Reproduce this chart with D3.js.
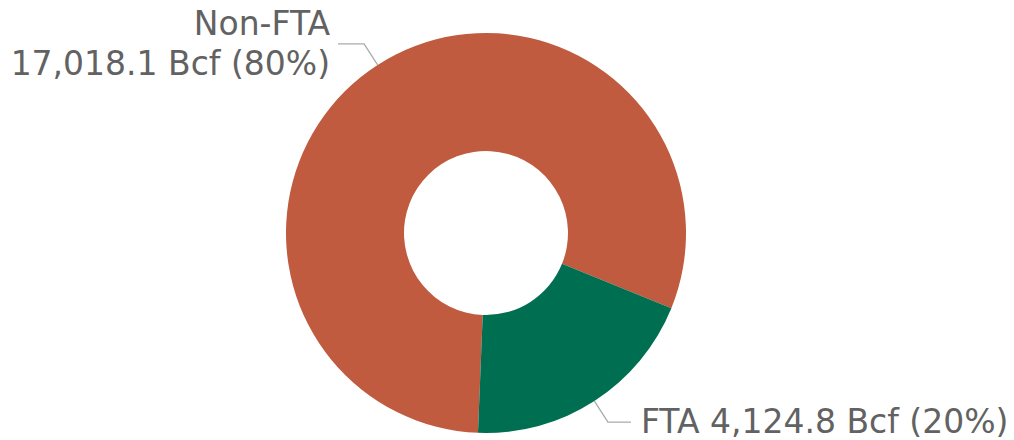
<!DOCTYPE html>
<html>
<head>
<meta charset="utf-8">
<script src="https://cdn.jsdelivr.net/npm/d3@7/dist/d3.min.js"></script>
<style>
  html, body { margin: 0; padding: 0; background: #fff; }
  svg { display: block; }
</style>
</head>
<body>
<svg id="chart" width="1014" height="440"></svg>
<script>
// LNG export volumes by destination agreement type
const categories = ["Non-FTA", "FTA"];
const volumes = [17018.1, 4124.8];          // Bcf
const shares = [80, 20];                    // percent, as labelled
const colors = ["#C05B3F", "#006E51"];

const width = 1014, height = 440;
const cx = 486, cy = 233;
const outerR = 200, innerR = 82;
const startDeg = 182.3;

const svg = d3.select("#chart");
const g = svg.append("g").attr("transform", `translate(${cx},${cy})`);

const data = categories.map((c, i) => ({ name: c, value: volumes[i], share: shares[i], color: colors[i] }));

const pie = d3.pie()
  .value(d => d.value)
  .sort(null)
  .startAngle(startDeg * Math.PI / 180)
  .endAngle(startDeg * Math.PI / 180 + 2 * Math.PI);

const arc = d3.arc().innerRadius(innerR).outerRadius(outerR);
const arcs = pie(data);

g.selectAll("path.slice")
  .data(arcs)
  .join("path")
  .attr("class", "slice")
  .attr("d", arc)
  .attr("fill", d => d.data.color);

const fmt = d3.format(",.1f");
const fontSize = 33;
const lineH = 40;

arcs.forEach(a => {
  const mid = (a.startAngle + a.endAngle) / 2;
  const sx = Math.sin(mid), sy = -Math.cos(mid);
  const p0 = [sx * outerR, sy * outerR];
  const p1 = [sx * (outerR + 25), sy * (outerR + 25)];
  const right = sx > 0;
  const p2 = [p1[0] + (right ? 23 : -26), p1[1]];

  g.append("polyline")
    .attr("points", [p0, p1, p2].map(p => p.join(",")).join(" "))
    .attr("fill", "none")
    .attr("stroke", "#ABABAB")
    .attr("stroke-width", 1.3);

  const text = g.append("text")
    .attr("font-family", "'DejaVu Sans', Verdana, sans-serif")
    .attr("font-size", fontSize)
    .attr("fill", "#626262")
    .attr("text-anchor", right ? "start" : "end");
  const tx = p2[0] + (right ? 10 : -8);
  const valueText = `${fmt(a.data.value)} Bcf (${a.data.share}%)`;

  if (right) {
    text.append("tspan")
      .attr("x", tx).attr("y", p2[1] + 11)
      .text(`${a.data.name} ${valueText}`);
  } else {
    text.append("tspan")
      .attr("x", tx).attr("y", p2[1] - 9)
      .text(a.data.name);
    text.append("tspan")
      .attr("x", tx).attr("y", p2[1] - 9 + lineH)
      .text(valueText);
  }
});
</script>
</body>
</html>
